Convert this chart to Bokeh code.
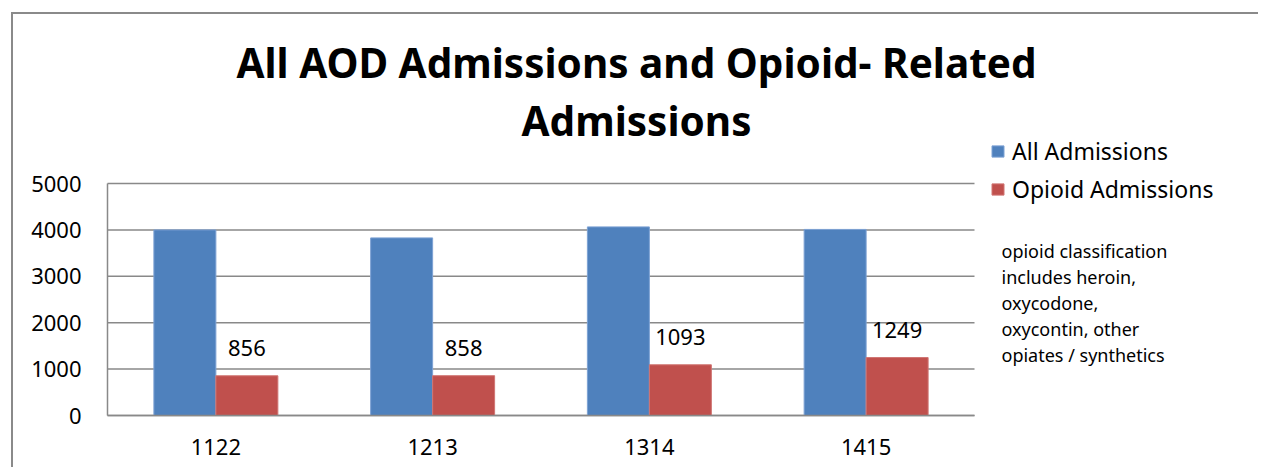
from bokeh.plotting import figure
from bokeh.models import (Range1d, ColumnDataSource, LabelSet, Label, Legend, LegendItem,
                          LinearAxis, FixedTicker)
from bokeh.core.properties import value
from bokeh.transform import dodge
from bokeh.embed import file_html
from bokeh.resources import INLINE

years = ["1122", "1213", "1314", "1415"]
all_adm = [4000, 3828, 4065, 4010]
opioid_adm = [856, 858, 1093, 1249]
y_ticks = [0, 1000, 2000, 3000, 4000, 5000]
series_names = ["All Admissions", "Opioid Admissions"]
title_lines = ["All AOD Admissions and Opioid- Related", "Admissions"]
note_lines = ["opioid classification", "includes heroin,", "oxycodone,",
              "oxycontin, other", "opiates / synthetics"]

FONT = "Noto Sans"
GRID = "#898989"

# layout (page pixels)
W, H = 1247, 455
ORG_X, ORG_Y = 13, 14          # canvas origin on the page (margin + border)
PX0, PX1 = 107, 974            # plot area x
PY0, PY1 = 183, 415            # plot area y
n = len(years)
ymax = y_ticks[-1]
xu = (PX1 - PX0) / n
yu = (PY1 - PY0) / ymax
x_range = Range1d(-(PX0 - ORG_X) / xu, n + (ORG_X + W - PX1) / xu)
y_range = Range1d(-(ORG_Y + H - PY1) / yu, ymax + (PY0 - ORG_Y) / yu)

xc = [i + 0.5 for i in range(n)]
src = ColumnDataSource(dict(xc=xc, all_adm=all_adm, opioid_adm=opioid_adm,
                            op_lbl=[str(v) for v in opioid_adm]))

p = figure(width=W, height=H, x_range=x_range, y_range=y_range, title=None,
           output_backend="svg", toolbar_location=None,
           x_axis_location=None, y_axis_location=None,
           min_border=0, min_border_left=0, min_border_right=0,
           min_border_top=0, min_border_bottom=0)
p.margin = (12, 0, 0, 11)
p.styles = {"border-top": "2px solid #8a8a8a", "border-left": "2px solid #8a8a8a"}
p.outline_line_color = None
p.xgrid.visible = False
p.ygrid.visible = False
p.background_fill_color = "white"

def sx(px):
    return px - ORG_X

def sy(py):
    return ORG_Y + H - py

# gridlines
p.segment(x0=[0] * len(y_ticks), x1=[n] * len(y_ticks), y0=y_ticks, y1=y_ticks,
          line_color=GRID, line_width=1.5)

bw = 0.286
r1 = p.vbar(x=dodge("xc", -bw / 2), top="all_adm", width=bw, source=src,
            fill_color="#4F81BD", line_color="#7DA2D4", line_width=1)
r2 = p.vbar(x=dodge("xc", bw / 2), top="opioid_adm", width=bw, source=src,
            fill_color="#C0504D", line_color="#D07573", line_width=1)

labels = LabelSet(x=dodge("xc", bw / 2), y="opioid_adm", text="op_lbl", source=src,
                  y_offset=20, text_align="center", text_baseline="alphabetic",
                  text_font=value(FONT), text_font_size=value("22px"), text_color="black")
p.add_layout(labels)

# axes
yax = LinearAxis(ticker=FixedTicker(ticks=y_ticks), fixed_location=0, bounds=(0, ymax))
yax.axis_line_color = GRID
yax.axis_line_width = 1.5
yax.major_tick_line_color = None
yax.minor_tick_line_color = None
yax.major_tick_out = 0
yax.major_tick_in = 0
yax.major_label_text_font = FONT
yax.major_label_text_font_size = "22px"
yax.major_label_text_color = "black"
yax.major_label_standoff = 26
p.add_layout(yax, "left")

xax = LinearAxis(ticker=FixedTicker(ticks=xc), fixed_location=0, bounds=(0, n),
                 major_label_overrides={xc[i]: years[i] for i in range(n)})
xax.axis_line_color = GRID
xax.axis_line_width = 1.5
xax.major_tick_line_color = None
xax.minor_tick_line_color = None
xax.major_tick_out = 0
xax.major_tick_in = 0
xax.major_label_text_font = FONT
xax.major_label_text_font_size = "22px"
xax.major_label_text_color = "black"
xax.major_label_standoff = 23
p.add_layout(xax, "below")

# title
for txt, py in zip(title_lines, [62, 120]):
    p.add_layout(Label(x=sx(636), y=sy(py), x_units="screen", y_units="screen", text=txt,
                       text_align="center", text_baseline="alphabetic", text_font=FONT,
                       text_font_style="bold", text_font_size="40.5px", text_color="black"))

# note
for i, txt in enumerate(note_lines):
    p.add_layout(Label(x=sx(1001), y=sy(250 + i * 26.2), x_units="screen", y_units="screen",
                       text=txt, text_align="left", text_baseline="alphabetic",
                       text_font=FONT, text_font_size="18px", text_color="black"))

legend = Legend(items=[LegendItem(label=series_names[0], renderers=[r1]),
                       LegendItem(label=series_names[1], renderers=[r2])],
                location=(sx(990), sy(205)), orientation="vertical")
legend.padding = 0
legend.margin = 0
legend.border_line_color = None
legend.background_fill_alpha = 0
legend.glyph_width = 15
legend.glyph_height = 14
legend.label_height = 32
legend.spacing = 6
legend.label_standoff = 7
legend.label_text_font = FONT
legend.label_text_font_size = "23px"
legend.label_text_color = "black"
p.add_layout(legend)

open("out.html", "w").write(file_html(p, INLINE))
